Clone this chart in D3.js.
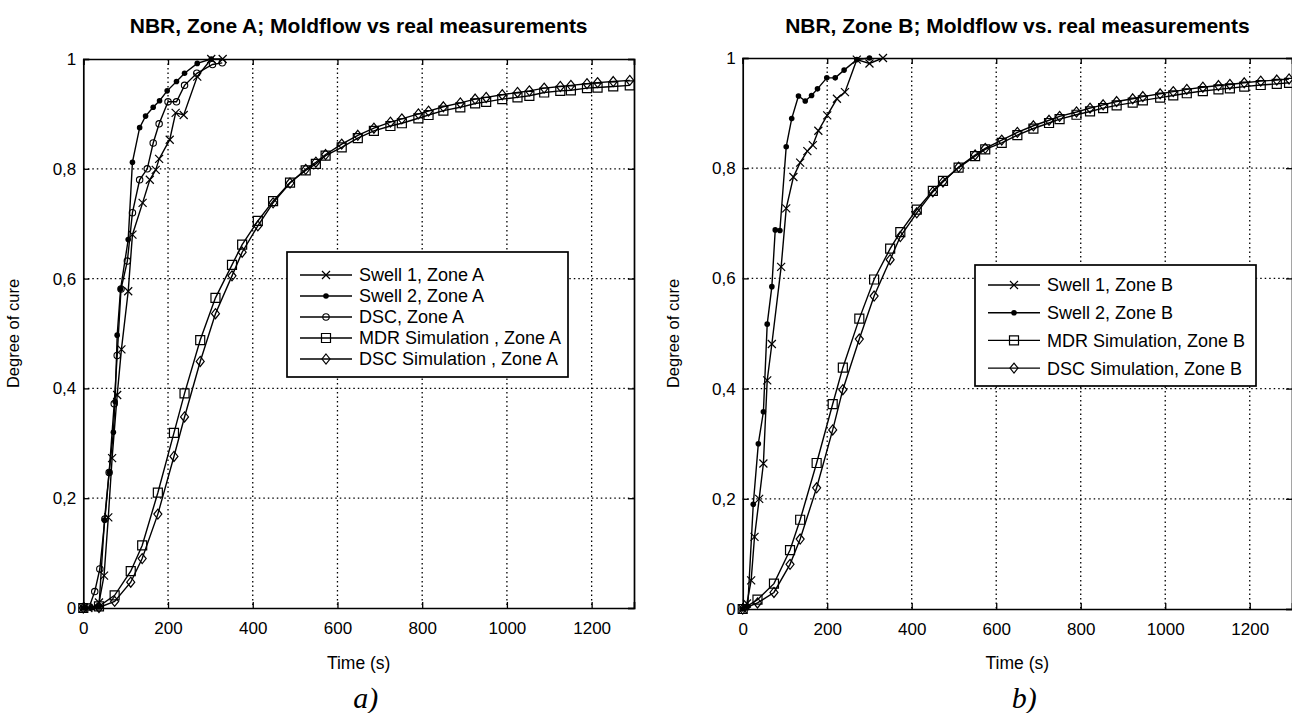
<!DOCTYPE html>
<html><head><meta charset="utf-8">
<script src="https://cdn.jsdelivr.net/npm/d3@7"></script>
<style>body{margin:0;background:#fff;} svg{display:block;}</style>
</head><body>
<svg id="c" width="1292" height="713"></svg>
<script>
// ---------- data ----------
const xTicks = [0, 200, 400, 600, 800, 1000, 1200];
const yTicks = [0, 0.2, 0.4, 0.6, 0.8, 1];

// Zone A
const tSwell1A = [0, 12, 25, 37, 49, 59, 68, 80, 90, 106, 116, 140, 157, 171, 179, 204, 218, 237, 269, 302, 329];
const vSwell1A = [0, 0, 0.002, 0.01, 0.059, 0.165, 0.273, 0.388, 0.471, 0.577, 0.68, 0.738, 0.78, 0.798, 0.818, 0.853, 0.902, 0.898, 0.968, 1.0, 1.0];
const tSwell2A = [0, 20, 37, 50, 61, 71, 75, 80, 88, 106, 116, 133, 147, 165, 180, 198, 220, 239, 269, 302];
const vSwell2A = [0, 0, 0.002, 0.16, 0.247, 0.32, 0.376, 0.497, 0.581, 0.671, 0.812, 0.875, 0.896, 0.912, 0.924, 0.942, 0.959, 0.974, 0.992, 1.0];
const tDscA = [0, 14, 27, 39, 51, 61, 73, 80, 89, 104, 116, 133, 151, 165, 179, 200, 220, 239, 268, 305, 328];
const vDscA = [0, 0.002, 0.03, 0.071, 0.162, 0.247, 0.372, 0.46, 0.581, 0.632, 0.72, 0.78, 0.80, 0.847, 0.882, 0.922, 0.922, 0.952, 0.974, 0.99, 0.993];
const tSimA = [0, 37, 74, 112, 139, 176, 214, 239, 276, 312, 351, 375, 412, 448, 488, 525, 549, 572, 610, 648, 686, 725, 752, 791, 815, 850, 890, 925, 951, 989, 1025, 1053, 1088, 1126, 1151, 1189, 1214, 1251, 1290];
const vMdrSimA = [0, 0.003, 0.023, 0.067, 0.114, 0.21, 0.319, 0.391, 0.488, 0.565, 0.625, 0.662, 0.705, 0.741, 0.775, 0.797, 0.809, 0.824, 0.839, 0.856, 0.869, 0.878, 0.883, 0.892, 0.898, 0.906, 0.912, 0.919, 0.922, 0.927, 0.930, 0.933, 0.939, 0.942, 0.943, 0.947, 0.948, 0.950, 0.952];
const vDscSimA = [0, 0.001, 0.012, 0.047, 0.09, 0.171, 0.276, 0.348, 0.449, 0.536, 0.605, 0.648, 0.696, 0.738, 0.774, 0.799, 0.812, 0.826, 0.845, 0.861, 0.874, 0.885, 0.891, 0.900, 0.905, 0.913, 0.920, 0.927, 0.930, 0.935, 0.939, 0.942, 0.947, 0.950, 0.952, 0.955, 0.957, 0.959, 0.961];

// Zone B
const tSwell1B = [0, 10, 20, 28, 39, 49, 58, 69, 91, 103, 120, 136, 153, 166, 179, 200, 223, 242, 270, 300, 332];
const vSwell1B = [0, 0.01, 0.052, 0.131, 0.2, 0.264, 0.415, 0.481, 0.621, 0.727, 0.784, 0.81, 0.831, 0.842, 0.868, 0.896, 0.926, 0.938, 0.997, 0.99, 1.0];
const tSwell2B = [0, 12, 25, 37, 49, 58, 69, 77, 88, 103, 116, 132, 148, 163, 177, 199, 219, 240, 270, 300];
const vSwell2B = [0, 0.005, 0.19, 0.30, 0.358, 0.517, 0.585, 0.688, 0.687, 0.839, 0.89, 0.931, 0.922, 0.932, 0.944, 0.964, 0.964, 0.978, 0.997, 1.0];
const tSimB = [0, 35, 74, 112, 136, 175, 213, 237, 276, 311, 349, 373, 412, 450, 474, 511, 550, 574, 613, 650, 688, 725, 750, 790, 822, 853, 885, 923, 947, 988, 1019, 1051, 1089, 1126, 1153, 1187, 1226, 1264, 1293];
const vMdrSimB = [0, 0.017, 0.046, 0.107, 0.162, 0.265, 0.372, 0.438, 0.527, 0.598, 0.654, 0.684, 0.725, 0.759, 0.777, 0.801, 0.822, 0.834, 0.846, 0.860, 0.872, 0.882, 0.889, 0.897, 0.903, 0.909, 0.914, 0.919, 0.923, 0.928, 0.932, 0.936, 0.940, 0.943, 0.945, 0.948, 0.951, 0.953, 0.955];
const vDscSimB = [0, 0.011, 0.03, 0.081, 0.127, 0.22, 0.325, 0.398, 0.49, 0.568, 0.634, 0.676, 0.719, 0.757, 0.775, 0.802, 0.824, 0.836, 0.851, 0.865, 0.877, 0.887, 0.894, 0.902, 0.909, 0.915, 0.921, 0.926, 0.930, 0.935, 0.939, 0.943, 0.947, 0.950, 0.952, 0.955, 0.958, 0.960, 0.962];

// ---------- layout ----------
const FONT = "'Liberation Sans', Arial, sans-serif";
const panels = [
  { box: { l: 83.3, r: 634, t: 59, b: 608 },
    title: "NBR, Zone A; Moldflow vs real measurements", tag: "a)",
    legend: { x: 287, y: 252, w: 281, h: 125, y0: 23, step: 21 },
    series: [
      { name: "Swell 1, Zone A", t: tSwell1A, v: vSwell1A, m: "x" },
      { name: "Swell 2, Zone A", t: tSwell2A, v: vSwell2A, m: "dot" },
      { name: "DSC, Zone A", t: tDscA, v: vDscA, m: "circle" },
      { name: "MDR Simulation , Zone A", t: tSimA, v: vMdrSimA, m: "square" },
      { name: "DSC Simulation , Zone A", t: tSimA, v: vDscSimA, m: "diamond" }
    ] },
  { box: { l: 742.7, r: 1292, t: 58, b: 609 },
    title: "NBR, Zone B; Moldflow vs. real measurements", tag: "b)",
    legend: { x: 975, y: 265, w: 281, h: 121, y0: 20, step: 27.7 },
    series: [
      { name: "Swell 1, Zone B", t: tSwell1B, v: vSwell1B, m: "x" },
      { name: "Swell 2, Zone B", t: tSwell2B, v: vSwell2B, m: "dot" },
      { name: "MDR Simulation, Zone B", t: tSimB, v: vMdrSimB, m: "square" },
      { name: "DSC Simulation, Zone B", t: tSimB, v: vDscSimB, m: "diamond" }
    ] }
];

const svg = d3.select("#c");

function drawMarker(g, type, cx, cy) {
  if (type === "dot") {
    g.append("circle").attr("cx", cx).attr("cy", cy).attr("r", 2.8).attr("fill", "#000");
  } else if (type === "circle") {
    g.append("circle").attr("cx", cx).attr("cy", cy).attr("r", 3.2).attr("fill", "none").attr("stroke", "#000").attr("stroke-width", 1.1);
  } else {
    const p = { x: "M-4,-4L4,4M-4,4L4,-4",
                square: "M-4.5,-4.5H4.5V4.5H-4.5Z",
                diamond: "M0,-5L4,0L0,5L-4,0Z" }[type];
    g.append("path").attr("d", p).attr("transform", `translate(${cx},${cy})`)
      .attr("fill", "none").attr("stroke", "#000").attr("stroke-width", 1.2);
  }
}

panels.forEach(P => {
  const B = P.box;
  const x = d3.scaleLinear().domain([0, 1300]).range([B.l, B.r]);
  const y = d3.scaleLinear().domain([0, 1]).range([B.b, B.t]);
  const g = svg.append("g");

  // grid
  g.append("g").selectAll("line").data(xTicks.filter(d => d > 0)).join("line")
    .attr("x1", d => x(d)).attr("x2", d => x(d)).attr("y1", B.t).attr("y2", B.b)
    .attr("stroke", "#000").attr("stroke-width", 1.3).attr("stroke-dasharray", "1.5,3");
  g.append("g").selectAll("line").data(yTicks.filter(d => d > 0 && d < 1)).join("line")
    .attr("y1", d => y(d)).attr("y2", d => y(d)).attr("x1", B.l).attr("x2", B.r)
    .attr("stroke", "#000").attr("stroke-width", 1.3).attr("stroke-dasharray", "1.5,3");

  // axes
  const fmtY = d => d === 0 ? "0" : d === 1 ? "1" : String(d).replace(".", ",");
  const ax = [
    g.append("g").attr("transform", `translate(0,${B.b})`).call(d3.axisBottom(x).tickValues(xTicks).tickSize(-6).tickPadding(14).tickFormat(d => d)),
    g.append("g").attr("transform", `translate(0,${B.t})`).call(d3.axisTop(x).tickValues(xTicks).tickSize(-6).tickFormat("")),
    g.append("g").attr("transform", `translate(${B.l},0)`).call(d3.axisLeft(y).tickValues(yTicks).tickSize(-6).tickPadding(7).tickFormat(fmtY)),
    g.append("g").attr("transform", `translate(${B.r},0)`).call(d3.axisRight(y).tickValues(yTicks).tickSize(-6).tickFormat(""))
  ];
  ax.forEach(a => {
    a.select(".domain").attr("stroke", "#000").attr("stroke-width", 1.7);
    a.selectAll(".tick line").attr("stroke", "#000").attr("stroke-width", 1.3);
    a.selectAll("text").attr("font-family", FONT).attr("font-size", 17).attr("fill", "#000");
  });

  // series
  const line = d3.line().x(d => x(d[0])).y(d => y(d[1]));
  P.series.forEach(s => {
    const pts = s.t.map((t, i) => [t, s.v[i]]);
    g.append("path").datum(pts).attr("d", line).attr("fill", "none").attr("stroke", "#000").attr("stroke-width", 1.4);
    const mg = g.append("g");
    pts.forEach(p => drawMarker(mg, s.m, x(p[0]), y(p[1])));
  });

  // legend
  const L = P.legend;
  const lg = g.append("g");
  lg.append("rect").attr("x", L.x).attr("y", L.y).attr("width", L.w).attr("height", L.h)
    .attr("fill", "#fff").attr("stroke", "#000").attr("stroke-width", 1.7);
  P.series.forEach((s, i) => {
    const yy = L.y + L.y0 + i * L.step;
    lg.append("line").attr("x1", L.x + 13).attr("x2", L.x + 65).attr("y1", yy).attr("y2", yy)
      .attr("stroke", "#000").attr("stroke-width", 1.4);
    drawMarker(lg, s.m, L.x + 39, yy);
    lg.append("text").attr("x", L.x + 72).attr("y", yy).attr("dy", "0.36em")
      .attr("font-family", FONT).attr("font-size", 18).text(s.name);
  });

  const cx = (B.l + B.r) / 2;
  // title
  g.append("text").attr("x", cx).attr("y", 33).attr("text-anchor", "middle")
    .attr("font-family", FONT).attr("font-weight", "bold").attr("font-size", 21).text(P.title);
  // x label
  g.append("text").attr("x", cx).attr("y", 669).attr("text-anchor", "middle")
    .attr("font-family", FONT).attr("font-size", 17.5).text("Time (s)");
  // y label
  g.append("text").attr("transform", `translate(${B.l - 64},${(B.t + B.b) / 2}) rotate(-90)`)
    .attr("text-anchor", "middle").attr("font-family", FONT).attr("font-size", 16.5).text("Degree of cure");
  // panel tag
  g.append("text").attr("x", cx + 7).attr("y", 708).attr("text-anchor", "middle")
    .attr("font-family", "'Liberation Serif', 'Times New Roman', serif").attr("font-style", "italic")
    .attr("font-size", 30).text(P.tag);
});
</script>
</body></html>
